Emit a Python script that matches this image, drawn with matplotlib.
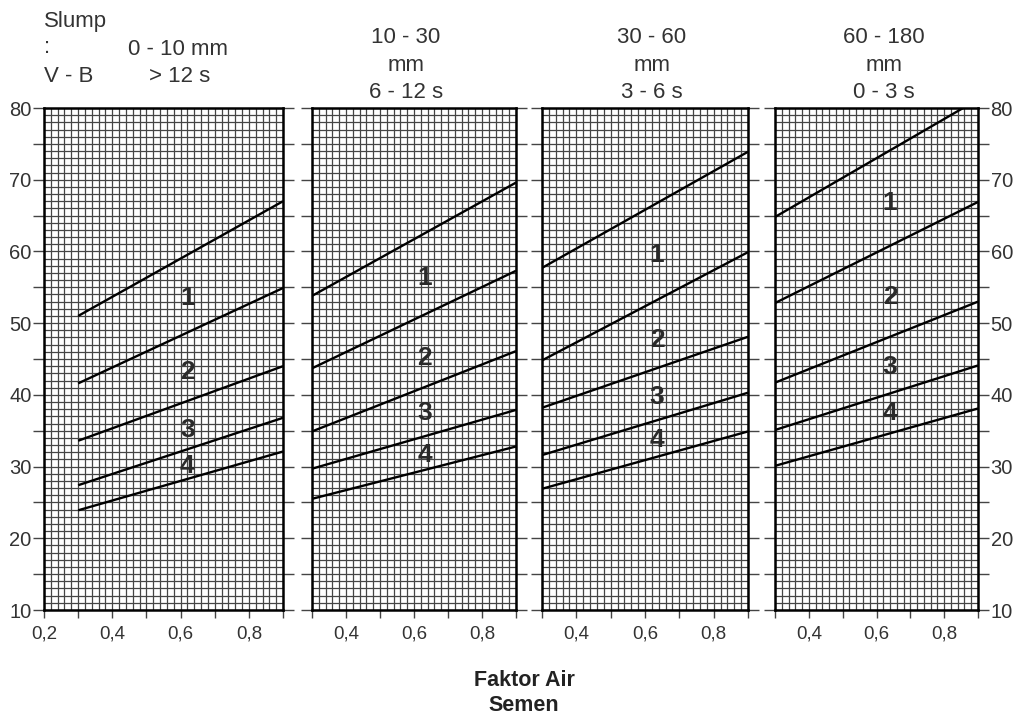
import matplotlib
matplotlib.use("Agg")
import matplotlib.pyplot as plt
from matplotlib.ticker import MultipleLocator, FuncFormatter

plt.rcParams['font.family'] = ['Liberation Sans', 'DejaVu Sans']

# ---- data ----
slump_ranges = ["0 - 10 mm", "10 - 30", "30 - 60", "60 - 180"]
vb_ranges = ["> 12 s", "6 - 12 s", "3 - 6 s", "0 - 3 s"]
x_limits = [(0.2, 0.9), (0.3, 0.9), (0.3, 0.9), (0.3, 0.9)]
x_line = [0.3, 0.9]
# boundary lines: (value at 0.3, value at 0.9) for each of 5 boundaries, per panel
line_start = [
    [51.0, 41.6, 33.6, 27.4, 23.9],
    [53.8, 43.7, 34.9, 29.7, 25.5],
    [57.7, 44.8, 38.2, 31.6, 26.9],
    [64.8, 52.8, 41.7, 35.1, 30.1],
]
line_end = [
    [67.0, 54.9, 44.0, 36.8, 32.1],
    [69.6, 57.3, 46.1, 37.9, 32.8],
    [73.9, 59.9, 48.1, 40.3, 34.9],
    [81.2, 66.9, 53.0, 44.1, 38.1],
]
zone_labels = ["1", "2", "3", "4"]
zone_x = [0.62, 0.632, 0.635, 0.64]
zone_y = [
    [53.5, 43.2, 35.1, 30.1],
    [56.3, 45.1, 37.5, 31.6],
    [59.5, 47.6, 39.7, 33.7],
    [66.8, 53.6, 43.9, 37.5],
]
y_limits = (10, 80)
x_title = "Faktor Air\nSemen"

# ---- layout (pixels) ----
W, H = 1014, 722
fig = plt.figure(figsize=(W / 100, H / 100), dpi=100)
panel_px = [(44, 283), (312, 516), (542, 748), (775, 978)]
top_px, bot_px = 108, 610
txt_col = '#333333'

def fx(px):
    return px / W

def fy(py):
    return 1 - py / H

def xfmt(v, pos):
    r = round(v, 2)
    if abs(r * 10 - round(r * 10)) < 1e-6 and round(r * 10) % 2 == 0 and r < 0.9:
        return ("%.1f" % r).replace('.', ',')
    return ""

def yfmt(v, pos):
    return "%d" % v if round(v) % 10 == 0 else ""

for i, (l, r) in enumerate(panel_px):
    ax = fig.add_axes([fx(l), fy(bot_px), fx(r - l), (bot_px - top_px) / H])
    ax.set_xlim(*x_limits[i])
    ax.set_ylim(*y_limits)
    ax.xaxis.set_major_locator(MultipleLocator(0.1))
    ax.xaxis.set_minor_locator(MultipleLocator(0.02))
    ax.yaxis.set_major_locator(MultipleLocator(5))
    ax.yaxis.set_minor_locator(MultipleLocator(1))
    ax.set_axisbelow(True)
    ax.grid(which='both', color='#454545', lw=0.9)
    ax.tick_params(which='minor', length=0)
    ax.tick_params(axis='x', which='major', direction='out', length=6, width=1,
                   color='#444444', labelsize=13.5, labelcolor=txt_col, pad=5)
    ax.tick_params(axis='y', which='major', direction='out', length=8, width=1,
                   color='#444444', left=True, right=True, labelsize=14.5,
                   labelcolor=txt_col, pad=1,
                   labelleft=(i == 0), labelright=(i == 3))
    ax.xaxis.set_major_formatter(FuncFormatter(xfmt))
    ax.yaxis.set_major_formatter(FuncFormatter(yfmt))
    for s in ax.spines.values():
        s.set_linewidth(1.8)
        s.set_color('black')
    for k in range(len(line_start[i])):
        ax.plot(x_line, [line_start[i][k], line_end[i][k]], color='black', lw=1.7,
                solid_capstyle='butt')
    for k, lab in enumerate(zone_labels):
        ax.text(zone_x[i], zone_y[i][k], lab, fontsize=19, fontweight='bold',
                color='#2a2a2a', ha='center', va='center')

# headings
hs = 16
fig.text(fx(44), fy(27), "Slump", fontsize=hs, color=txt_col, ha='left', va='baseline')
fig.text(fx(44), fy(53), ":", fontsize=hs, color=txt_col, ha='left', va='baseline')
fig.text(fx(44), fy(82), "V - B", fontsize=hs, color=txt_col, ha='left', va='baseline')
fig.text(fx(178), fy(55), slump_ranges[0], fontsize=hs, color=txt_col, ha='center', va='baseline')
fig.text(fx(180), fy(82), vb_ranges[0], fontsize=hs, color=txt_col, ha='center', va='baseline')
head_x = [406, 652, 884]
for j in range(3):
    fig.text(fx(head_x[j]), fy(43), slump_ranges[j + 1], fontsize=hs, color=txt_col,
             ha='center', va='baseline')
    fig.text(fx(head_x[j]), fy(71), "mm", fontsize=hs, color=txt_col,
             ha='center', va='baseline')
    fig.text(fx(head_x[j]), fy(98), vb_ranges[j + 1], fontsize=hs, color=txt_col,
             ha='center', va='baseline')

fig.text(fx(524), fy(693), x_title, fontsize=15.5, fontweight='bold', color='#222222',
         ha='center', va='center', linespacing=1.3)

fig.savefig("out.png", dpi=100, facecolor='white')
